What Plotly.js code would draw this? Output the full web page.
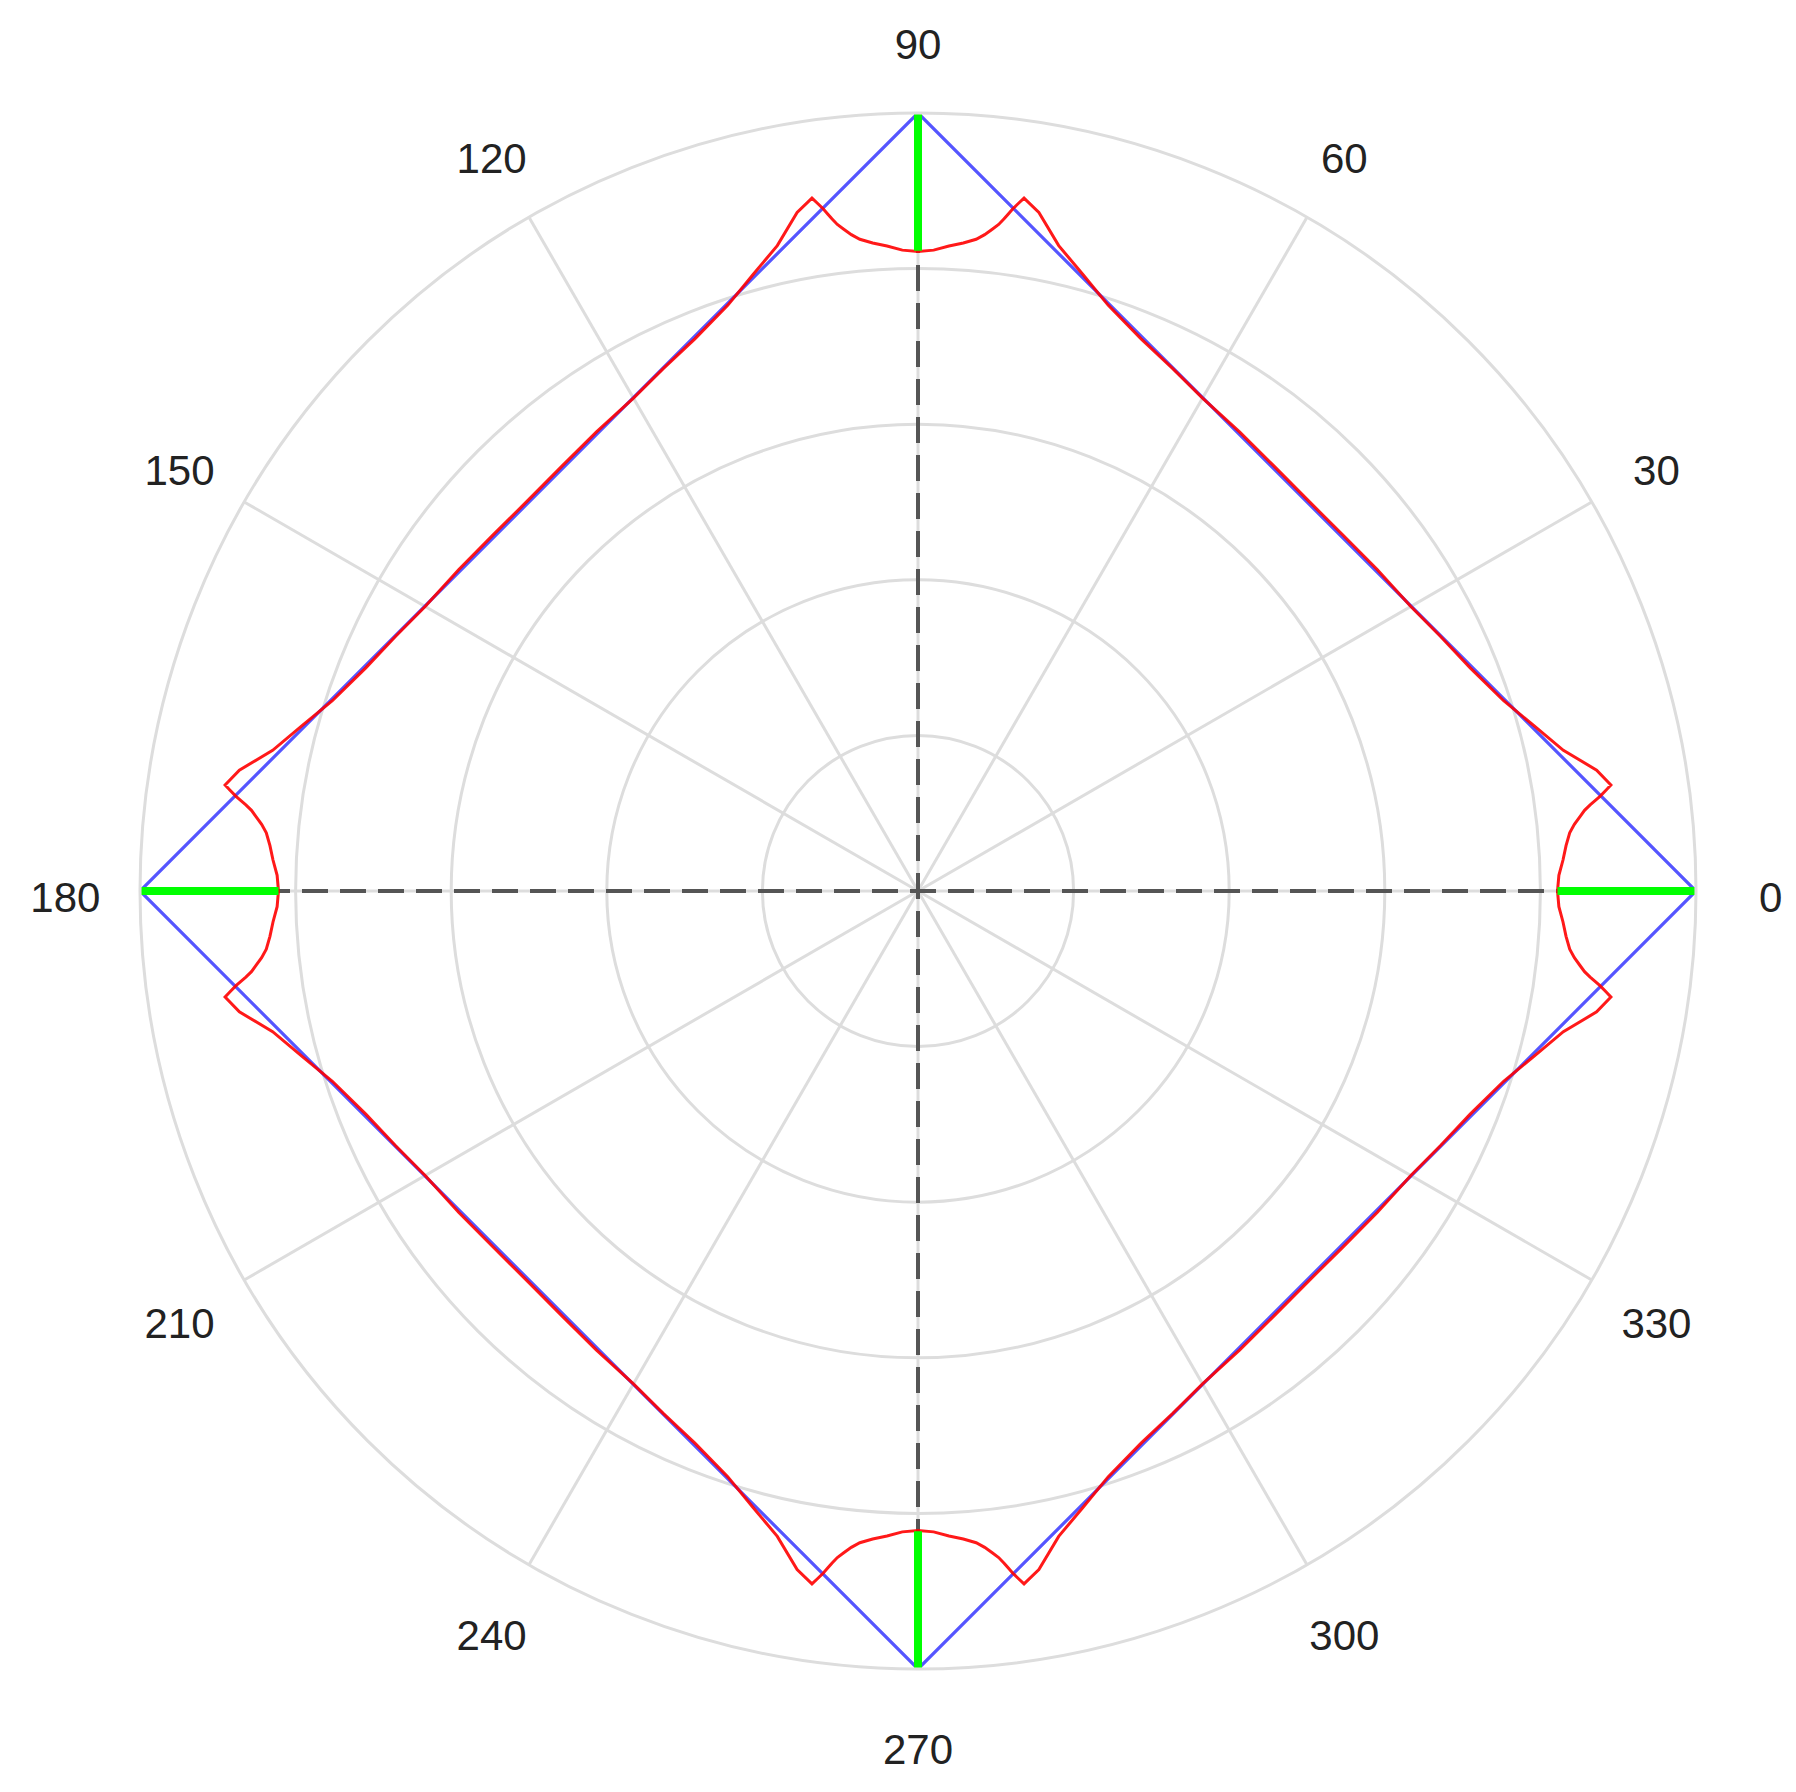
<!DOCTYPE html>
<html>
<head>
<meta charset="utf-8">
<script src="https://cdn.plot.ly/plotly-3.0.1.min.js"></script>
<style>html,body{margin:0;padding:0;background:#fff;}#chart{width:1796px;height:1792px;}</style>
</head>
<body>
<div id="chart"></div>
<script>
// Blue diamond (square reference shape)
const blueTheta = [0, 90, 180, 270, 360];
const blueR = [1, 1, 1, 1, 1];

// Red approximation curve
const redTheta = [
  0, 1.4, 2.75, 4.0, 5.1, 5.8, 6.4, 6.9, 7.3, 7.6, 7.9, 8.3, 8.7, 10.1, 12.3, 15, 18, 22, 26, 30, 35, 40, 45, 50, 55, 60, 64, 68, 72, 75, 77.7, 79.9, 81.3, 81.7, 82.1, 82.4, 82.7, 83.1, 83.6, 84.2, 84.9, 86.0, 87.25, 88.6,
  90, 91.4, 92.75, 94.0, 95.1, 95.8, 96.4, 96.9, 97.3, 97.6, 97.9, 98.3, 98.7, 100.1, 102.3, 105, 108, 112, 116, 120, 125, 130, 135, 140, 145, 150, 154, 158, 162, 165, 167.7, 169.9, 171.3, 171.7, 172.1, 172.4, 172.7, 173.1, 173.6, 174.2, 174.9, 176.0, 177.25, 178.6,
  180, 181.4, 182.75, 184.0, 185.1, 185.8, 186.4, 186.9, 187.3, 187.6, 187.9, 188.3, 188.7, 190.1, 192.3, 195, 198, 202, 206, 210, 215, 220, 225, 230, 235, 240, 244, 248, 252, 255, 257.7, 259.9, 261.3, 261.7, 262.1, 262.4, 262.7, 263.1, 263.6, 264.2, 264.9, 266.0, 267.25, 268.6,
  270, 271.4, 272.75, 274.0, 275.1, 275.8, 276.4, 276.9, 277.3, 277.6, 277.9, 278.3, 278.7, 280.1, 282.3, 285, 288, 292, 296, 300, 305, 310, 315, 320, 325, 330, 334, 338, 342, 345, 347.7, 349.9, 351.3, 351.7, 352.1, 352.4, 352.7, 353.1, 353.6, 354.2, 354.9, 356.0, 357.25, 358.6,
  360
];
const redR = [
  0.822, 0.824, 0.830, 0.835, 0.841, 0.848, 0.856, 0.863, 0.871, 0.878, 0.885, 0.893, 0.901, 0.886, 0.849, 0.820, 0.7915, 0.7655, 0.7470, 0.7315, 0.7205, 0.7125, 0.7095, 0.7125, 0.7205, 0.7315, 0.7470, 0.7655, 0.7915, 0.820, 0.849, 0.886, 0.901, 0.893, 0.885, 0.878, 0.871, 0.863, 0.856, 0.848, 0.841, 0.835, 0.830, 0.824,
  0.822, 0.824, 0.830, 0.835, 0.841, 0.848, 0.856, 0.863, 0.871, 0.878, 0.885, 0.893, 0.901, 0.886, 0.849, 0.820, 0.7915, 0.7655, 0.7470, 0.7315, 0.7205, 0.7125, 0.7095, 0.7125, 0.7205, 0.7315, 0.7470, 0.7655, 0.7915, 0.820, 0.849, 0.886, 0.901, 0.893, 0.885, 0.878, 0.871, 0.863, 0.856, 0.848, 0.841, 0.835, 0.830, 0.824,
  0.822, 0.824, 0.830, 0.835, 0.841, 0.848, 0.856, 0.863, 0.871, 0.878, 0.885, 0.893, 0.901, 0.886, 0.849, 0.820, 0.7915, 0.7655, 0.7470, 0.7315, 0.7205, 0.7125, 0.7095, 0.7125, 0.7205, 0.7315, 0.7470, 0.7655, 0.7915, 0.820, 0.849, 0.886, 0.901, 0.893, 0.885, 0.878, 0.871, 0.863, 0.856, 0.848, 0.841, 0.835, 0.830, 0.824,
  0.822, 0.824, 0.830, 0.835, 0.841, 0.848, 0.856, 0.863, 0.871, 0.878, 0.885, 0.893, 0.901, 0.886, 0.849, 0.820, 0.7915, 0.7655, 0.7470, 0.7315, 0.7205, 0.7125, 0.7095, 0.7125, 0.7205, 0.7315, 0.7470, 0.7655, 0.7915, 0.820, 0.849, 0.886, 0.901, 0.893, 0.885, 0.878, 0.871, 0.863, 0.856, 0.848, 0.841, 0.835, 0.830, 0.824,
  0.822
];

// Green gap segments at the corners
const greenTheta = [0, 0, null, 90, 90, null, 180, 180, null, 270, 270];
const greenR = [0.822, 1, null, 0.823, 1, null, 0.822, 1, null, 0.823, 1];

// Dashed axes
const dashHTheta = [0, 180];
const dashHR = [1, 1];
const dashVTheta = [90, 270];
const dashVR = [1, 1];

// Angular tick labels
const angTickVals = [0, 30, 60, 90, 120, 150, 180, 210, 240, 270, 300, 330];
const angTickText = ['0', '30', '60', '90', '120', '150', '180', '210', '240', '270', '300', '330'];
const radTickVals = [0.2, 0.4, 0.6, 0.8, 1.0];

const LABEL_R = 1.096;
const FONT = 'Liberation Sans, Arial, sans-serif';

const traces = [
  {type: 'scatterpolar', subplot: 'polar', mode: 'lines', theta: dashHTheta, r: dashHR,
   line: {color: '#555555', width: 4, dash: '26px,12px'}, hoverinfo: 'skip'},
  {type: 'scatterpolar', subplot: 'polar', mode: 'lines', theta: dashVTheta, r: dashVR,
   line: {color: '#555555', width: 4, dash: '26px,12px'}, hoverinfo: 'skip'},
  {type: 'scatterpolar', subplot: 'polar', mode: 'lines', theta: blueTheta, r: blueR,
   line: {color: 'rgb(85,85,255)', width: 3.2}},
  {type: 'scatterpolar', subplot: 'polar', mode: 'lines', theta: redTheta, r: redR,
   line: {color: 'rgba(255,0,0,0.9)', width: 3}},
  {type: 'scatterpolar', subplot: 'polar', mode: 'lines', theta: greenTheta, r: greenR, connectgaps: false,
   line: {color: '#00ff00', width: 8}},
  // angular tick labels, centred on their angle, drawn on a concentric label ring
  {type: 'scatterpolar', subplot: 'polar2', mode: 'text', theta: angTickVals, r: angTickVals.map(() => LABEL_R),
   text: angTickText, textposition: 'middle center', cliponaxis: false,
   textfont: {family: FONT, size: 42, color: '#222222'}, hoverinfo: 'skip'}
];

const layout = {
  width: 1796, height: 1792,
  margin: {l: 0, r: 0, t: 0, b: 0},
  paper_bgcolor: '#ffffff',
  showlegend: false,
  font: {family: FONT, size: 42, color: '#222222'},
  polar: {
    bgcolor: '#ffffff',
    domain: {x: [0.077951, 0.944321], y: [0.068638, 0.936942]},
    radialaxis: {
      range: [0, 1], tickvals: radTickVals, showticklabels: false, ticks: '',
      showline: false, gridcolor: '#dddddd', gridwidth: 3
    },
    angularaxis: {
      rotation: 0, direction: 'counterclockwise',
      tickvals: angTickVals, showticklabels: false, ticks: '',
      showline: true, linecolor: '#dddddd', linewidth: 3,
      gridcolor: '#dddddd', gridwidth: 3
    }
  },
  polar2: {
    bgcolor: 'rgba(0,0,0,0)',
    domain: {x: [0.023803, 0.998469], y: [0.00879, 0.98563]},
    radialaxis: {range: [0, 1.125], visible: false},
    angularaxis: {rotation: 0, direction: 'counterclockwise', visible: false}
  }
};

Plotly.newPlot('chart', traces, layout, {displayModeBar: false, staticPlot: true});
</script>
</body>
</html>
